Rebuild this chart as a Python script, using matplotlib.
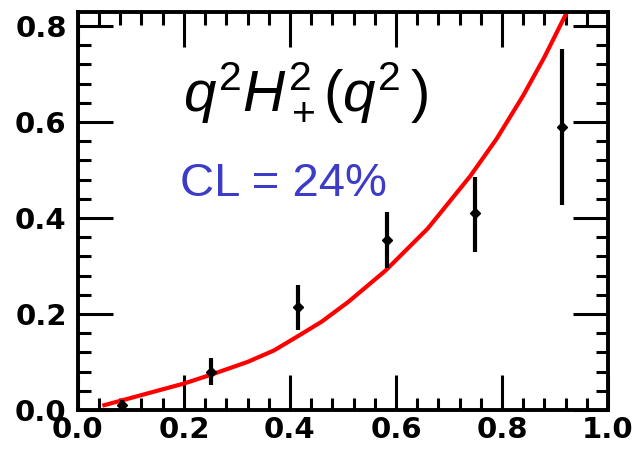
import numpy as np
import matplotlib
matplotlib.use("Agg")
import matplotlib.pyplot as plt
from matplotlib.ticker import MultipleLocator, FormatStrFormatter

# data points (bin centres, values, errors)
q2 = [0.084, 0.252, 0.416, 0.584, 0.749, 0.914]
vals = [0.010, 0.080, 0.215, 0.354, 0.410, 0.590]
err_lo = [0.010, 0.028, 0.048, 0.059, 0.080, 0.163]
err_hi = [0.010, 0.028, 0.045, 0.059, 0.076, 0.163]

# fitted curve
fit_x = [0.050, 0.130, 0.200, 0.250, 0.320, 0.370, 0.420, 0.460, 0.510,
         0.580, 0.660, 0.740, 0.790, 0.840, 0.880, 0.923]
fit_y = [0.010, 0.034, 0.055, 0.073, 0.100, 0.124, 0.157, 0.184, 0.225,
         0.290, 0.378, 0.487, 0.565, 0.655, 0.735, 0.830]

plt.rcParams['mathtext.fontset'] = 'custom'
plt.rcParams['mathtext.rm'] = 'Liberation Sans'
plt.rcParams['mathtext.it'] = 'Liberation Sans:italic'

fig = plt.figure(figsize=(6.33, 4.55), dpi=100)
ax = fig.add_axes([0.123, 0.099, 0.8375, 0.8745])

ax.plot(fit_x, fit_y, color='#ff0000', lw=3, zorder=2)
ax.errorbar(q2, vals, yerr=[err_lo, err_hi], fmt='D', color='black',
            ms=5, elinewidth=3, capsize=0, zorder=3)

ax.set_xlim(0, 1.0)
ax.set_ylim(0, 0.829)
ax.xaxis.set_major_locator(MultipleLocator(0.2))
ax.xaxis.set_minor_locator(MultipleLocator(0.04))
ax.yaxis.set_major_locator(MultipleLocator(0.2))
ax.yaxis.set_minor_locator(MultipleLocator(0.04))
ax.xaxis.set_major_formatter(FormatStrFormatter('%.1f'))
ax.yaxis.set_major_formatter(FormatStrFormatter('%.1f'))

ax.tick_params(which='both', direction='in', top=True, right=True, width=2.2)
ax.tick_params(which='major', length=25)
ax.tick_params(which='minor', length=9)
ax.tick_params(axis='x', which='major', pad=4)
ax.tick_params(axis='y', which='major', pad=8)
for lab in ax.get_xticklabels() + ax.get_yticklabels():
    lab.set_fontsize(21)
    lab.set_fontweight('bold')
for s in ax.spines.values():
    s.set_linewidth(2.8)

ax.text(0.198, 0.80, r'$q^2H_+^2(q^2\,)$', transform=ax.transAxes,
        fontsize=42, color='black', va='center', ha='left')
ax.text(0.193, 0.567, 'CL = 24%', transform=ax.transAxes, family='Liberation Sans',
        fontsize=34, color='#3c3cc8', va='center', ha='left')

fig.savefig('out.png', dpi=100)
